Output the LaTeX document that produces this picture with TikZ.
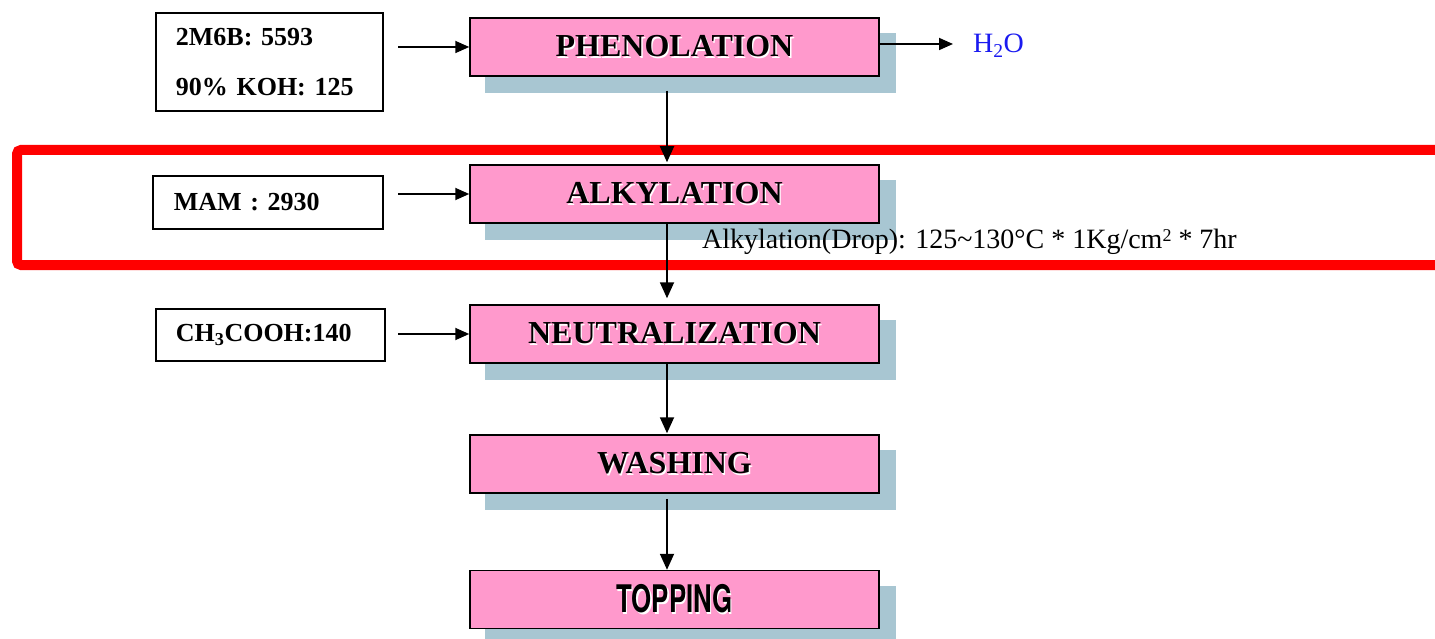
\documentclass[tikz,border=0pt]{standalone}
\usepackage{fontspec}
\setmainfont{Liberation Serif}
\newfontfamily\herosfont{TeX Gyre Heros}
\usetikzlibrary{backgrounds,arrows.meta,calc}
\definecolor{pinkc}{HTML}{FF99CC}
\definecolor{shadc}{HTML}{A8C6D2}
\definecolor{shadtxt}{HTML}{97B7C6}
\definecolor{redc}{HTML}{FF0000}
\definecolor{h2oblue}{HTML}{1A1AF0}
\newcommand\embtext[1]{\leavevmode\rlap{\hspace{1.3pt}\raisebox{-1.3pt}{\color{white}#1}}#1}
\newcommand\topword{\scalebox{0.68}[1]{\herosfont\bfseries TOPPING}}
\begin{document}
\begin{tikzpicture}[x=1pt,y=-1pt,
  proc/.style={draw=black, line width=1.5pt, fill=pinkc, minimum width=409pt, minimum height=58pt, inner sep=0pt,
    font=\fontsize{32}{36}\selectfont\bfseries},
  inbox/.style={draw=black, line width=1.8pt, fill=white, anchor=north west, align=left, inner ysep=0pt,
    font=\fontsize{26}{50}\selectfont\bfseries},
  harr/.style={-{Triangle[length=14pt,width=12pt]}, line width=1.8pt},
  varr/.style={-{Triangle[length=16pt,width=14pt]}, line width=1.8pt},
]
\useasboundingbox (0,0) rectangle (1435,639);

% process boxes
\node[proc] (phen) at (674.5,47) {\raisebox{-2pt}{\embtext{PHENOLATION}}};
\node[proc] (alk)  at (674.5,194) {\raisebox{-2pt}{\embtext{ALKYLATION}}};
\node[proc] (neut) at (674.5,334) {\raisebox{-2pt}{\embtext{NEUTRALIZATION}}};
\node[proc] (wash) at (674.5,464) {\raisebox{-2pt}{\embtext{WASHING}}};
\node[proc] (top)  at (674.5,599.5) {\fontsize{38}{40}\selectfont\embtext{\topword}};

\begin{scope}[on background layer]
  \foreach \n in {phen,alk,neut,wash,top}{
    \fill[shadc] ([shift={(16,16)}]\n.north west) rectangle ([shift={(16,16)}]\n.south east);
  }
  \node[inner sep=0pt, text=shadtxt, font=\fontsize{38}{40}\selectfont] (topsh) at ([shift={(17,16)}]top.center) {\topword};
\end{scope}

% input boxes
\node[inbox, minimum width=227pt, minimum height=98pt, text width=187pt, inner xsep=20pt] (in1) at (155,12)
  {2M6B: 5593\\90\% KOH: 125};
\node[inbox, minimum width=230pt, minimum height=53pt, text width=188pt, inner xsep=21pt] (in2) at (152,175)
  {MAM : 2930};
\node[inbox, minimum width=229pt, minimum height=52pt, text width=189pt, inner xsep=20pt] (in3) at (155,308)
  {CH\textsubscript{3}COOH:140};

% red highlight frame
\draw[redc, line width=10pt, rounded corners=4pt] (17,150) rectangle (1460,265);

% free ends of connectors
\coordinate (s1) at (398,47);
\coordinate (s2) at (398,194);
\coordinate (s3) at (398,334);
\coordinate (h2oin) at (953,44);
\coordinate (col) at (667,0);

\draw[harr] (s1) -- (phen.west);
\draw[harr] (s2) -- (alk.west);
\draw[harr] (s3) -- (neut.west);
\draw[harr] (phen.east |- h2oin) -- (h2oin);

\node[anchor=base west, inner sep=0pt, text=h2oblue, font=\fontsize{28}{30}\selectfont] (h2o) at (973,53)
  {H\textsubscript{2}O};

\draw[varr] ([yshift=-14pt]phen.south -| col) -- ([yshift=2pt]alk.north -| col);
\draw[varr] (alk.south -| col) -- ([yshift=6pt]neut.north -| col);
\draw[varr] (neut.south -| col) -- ([yshift=1pt]wash.north -| col);
\draw[varr] ([yshift=-5pt]wash.south -| col) -- (top.north -| col);

\node[anchor=base west, inner sep=0pt, font=\fontsize{28}{30}\selectfont] (note) at (702,248)
  {Alkylation(Drop): 125\textasciitilde130°C * 1Kg/cm\raisebox{6pt}{\fontsize{18}{20}\selectfont 2} * 7hr};
\end{tikzpicture}
\end{document}
